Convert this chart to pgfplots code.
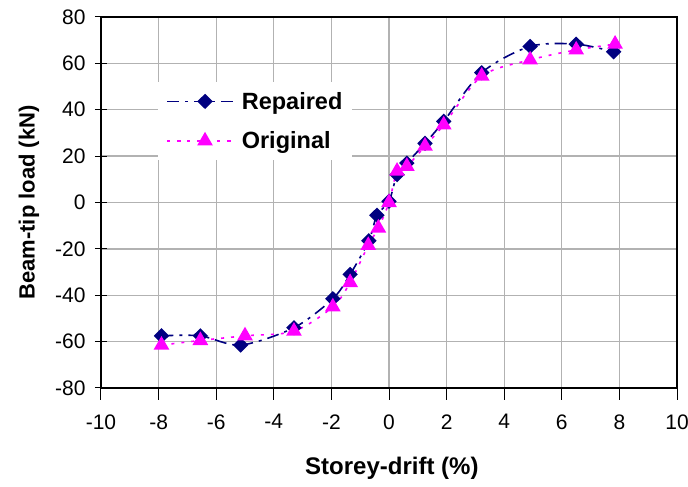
\documentclass[border=0pt]{standalone}
\usepackage{fontspec}
\setmainfont{Liberation Sans}
\usepackage{pgfplots}
\pgfplotsset{compat=1.18}
\definecolor{repc}{RGB}{0,0,128}
\definecolor{orgc}{RGB}{255,0,255}
\definecolor{gridc}{RGB}{178,178,178}

\pgfplotstableread{
x y
-7.90 -57.5
-6.55 -57.5
-5.15 -61.5
-3.30 -54.0
-1.95 -41.5
-1.35 -31.0
-0.70 -16.5
-0.42 -5.5
0.00 0.5
0.28 12.0
0.62 17.0
1.25 25.5
1.90 35.0
3.22 56.0
4.90 67.3
6.50 68.3
7.80 65.0
}\repaired

\pgfplotstableread{
x y
-7.90 -61.5
-6.55 -59.5
-5.00 -57.5
-3.30 -55.5
-1.95 -45.0
-1.35 -34.5
-0.72 -18.5
-0.37 -11.0
0.00 0.0
0.28 13.5
0.62 15.6
1.25 24.3
1.90 33.5
3.22 54.5
4.90 61.5
6.50 65.8
7.85 68.3
}\original

\begin{document}
\begin{tikzpicture}
\path[use as bounding box] (0,0) rectangle (688pt,487pt);
\begin{axis}[
  at={(101pt,99pt)}, anchor=south west,
  scale only axis, width=576pt, height=371pt,
  xmin=-10, xmax=10, ymin=-80, ymax=80,
  xtick={-10,-8,...,10}, ytick={-80,-60,...,80},
  xtick pos=bottom, ytick pos=left,
  xtick align=outside, ytick align=center,
  major tick length=12pt,
  grid=major,
  major grid style={gridc, line width=1.3pt},
  axis line style={black, line width=1.1pt},
  tick style={black, line width=1pt},
  /pgf/number format/assume math mode=true,
  ticklabel style={font=\fontsize{21}{25}\selectfont},
  xticklabel style={yshift=-11pt},
  yticklabel style={xshift=-6pt},
  xlabel={Storey-drift (\%)},
  ylabel={Beam-tip load (kN)},
  xlabel style={font=\bfseries\fontsize{24}{28}\selectfont,
    at={(axis description cs:0.505,-0.2156)}, anchor=center},
  ylabel style={font=\bfseries\fontsize{22}{26}\selectfont,
    at={(axis description cs:-0.125,0.5)}, anchor=center},
  legend style={at={(axis description cs:0.099,0.825)}, anchor=north west,
    draw=none, fill=white, font=\bfseries\fontsize{23.5}{27}\selectfont,
    row sep=17pt, inner xsep=8pt, inner ysep=8pt,
    /tikz/every odd column/.append style={column sep=6pt}},
  legend cell align=left,
  legend image code/.code={
    \draw[mark repeat=2, mark phase=2, #1] plot coordinates {(0pt,0pt) (38pt,0pt) (66pt,0pt)};},
]
\addplot[repc, line width=1.6pt, smooth,
  dash pattern=on 12pt off 6pt on 3pt off 6pt,
  mark=diamond*, mark size=6.5pt,
  mark options={solid, xscale=1.35, fill=repc}] table {\repaired};
\addlegendentry{Repaired}
\addplot[orgc, line width=1.6pt, smooth,
  dash pattern=on 3pt off 7pt,
  mark=triangle*, mark size=7.5pt,
  mark options={solid, fill=orgc}] table {\original};
\addlegendentry{Original}
\end{axis}
\end{tikzpicture}
\end{document}
